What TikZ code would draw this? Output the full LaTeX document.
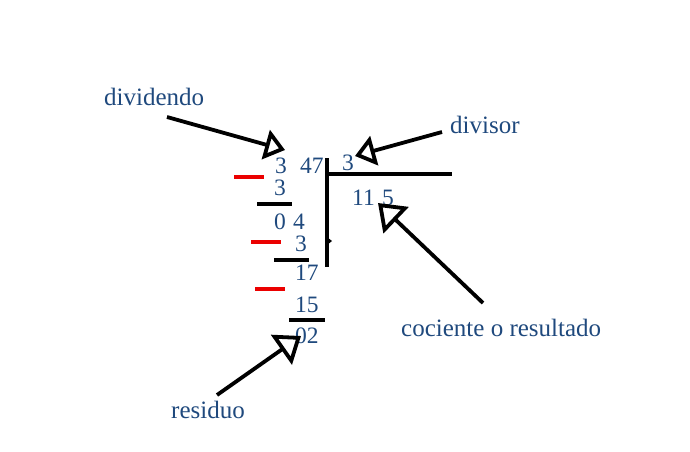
\documentclass[tikz,border=0pt]{standalone}
\usepackage{fontspec}
\setmainfont{Liberation Serif}
\usetikzlibrary{arrows.meta}
\definecolor{txtblue}{RGB}{31,73,125}
\definecolor{dashred}{RGB}{235,0,0}
\begin{document}
\begin{tikzpicture}[x=1pt,y=-1pt,
  num/.style={anchor=base west,inner sep=0pt,text=txtblue,font=\fontsize{23.5}{24}\selectfont},
  lbl/.style={anchor=base west,inner sep=0pt,text=txtblue,font=\fontsize{25}{25}\selectfont},
  rule/.style={line width=3.5pt,black},
  minus/.style={line width=3.5pt,dashred},
  pointer/.style={line width=3.8pt,black,-{Triangle[open,length=20pt,width=30pt]}}]
\useasboundingbox (0,0) rectangle (690,451);
% labels
\node[lbl] (dividendo) at (104,105) {dividendo};
\node[lbl] (divisor) at (450,133) {divisor};
\node[lbl] (cociente) at (401,336) {cociente o resultado};
\node[lbl] (residuo) at (171,418) {residuo};
% numbers
\node[num] (d1) at (275,173) {3};
\node[num] (d2) at (300,173) {47};
\node[num] (dv) at (342,170) {3};
\node[num] (s1) at (274,195) {3};
\node[num] (r1a) at (274,229) {0};
\node[num] (r1b) at (293,229) {4};
\node[num] (s2) at (295,251) {3};
\node[num] (r2) at (295,280) {17};
\node[num] (s3) at (295,312) {15};
\node[num] (r3) at (295,343) {02};
\node[num] (q1) at (352,205) {11};
\node[num] (q2) at (382,205) {5};
% division bracket
\coordinate (vtop) at (327,158);
\coordinate (vbot) at (327,267);
\coordinate (hl) at (327,174);
\coordinate (hr) at (452,174);
\draw[rule] (vtop) -- (vbot);
\draw[rule] (hl) -- (hr);
\fill[black] (327,237) -- (332,241) -- (327,245) -- cycle;
% subtraction lines
\coordinate (b1l) at (257,204); \coordinate (b1r) at (292,204);
\coordinate (b2l) at (274,260); \coordinate (b2r) at (309,260);
\coordinate (b3l) at (289,320); \coordinate (b3r) at (325,320);
\draw[rule] (b1l) -- (b1r);
\draw[rule] (b2l) -- (b2r);
\draw[rule] (b3l) -- (b3r);
% minus signs
\coordinate (m1l) at (234,177); \coordinate (m1r) at (264,177);
\coordinate (m2l) at (251,242); \coordinate (m2r) at (281,242);
\coordinate (m3l) at (255,289); \coordinate (m3r) at (285,289);
\draw[minus] (m1l) -- (m1r);
\draw[minus] (m2l) -- (m2r);
\draw[minus] (m3l) -- (m3r);
% pointers
\coordinate (pa0) at (167,117); \coordinate (pa1) at (285,150);
\coordinate (pb0) at (442,132); \coordinate (pb1) at (355,156);
\coordinate (pc0) at (483,303); \coordinate (pc1) at (378,203);
\coordinate (pd0) at (217,395); \coordinate (pd1) at (301,336);
\draw[pointer] (pa0) -- (pa1);
\draw[pointer] (pb0) -- (pb1);
\draw[pointer,-{Triangle[open,length=25pt,width=36pt]}] (pc0) -- (pc1);
\draw[pointer,-{Triangle[open,length=24pt,width=36pt]}] (pd0) -- (pd1);
\end{tikzpicture}
\end{document}
